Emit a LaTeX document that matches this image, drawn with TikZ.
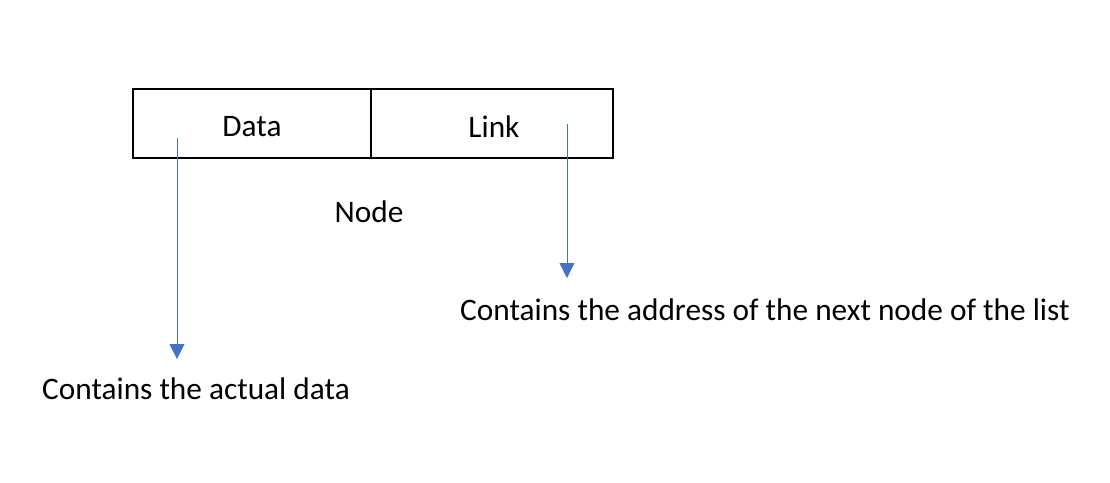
\documentclass[tikz,border=0pt]{standalone}
\usepackage{fontspec}
\setmainfont{Carlito}
\usetikzlibrary{arrows.meta}
\definecolor{officeblue}{HTML}{4472C4}
\tikzset{
  cell/.style={draw=black, line width=1.6pt, minimum height=69pt, inner sep=0pt},
  lbl/.style={font=\fontsize{31.3}{36}\selectfont, inner sep=0pt},
  ptr/.style={draw=officeblue, line width=0.9pt, -{Triangle[length=15pt,width=15pt]}}
}
\begin{document}
\begin{tikzpicture}[x=1pt,y=-1pt]
\useasboundingbox (0,0) rectangle (1110,482);
\node[cell, minimum width=238pt] (data) at (252,123.5) {};
\node[cell, minimum width=242pt] (link) at (492,123.5) {};
\node[lbl] (datat) at (252,127) {Data};
\node[lbl] (linkt) at (494,127) {Link};
\node[lbl] (nodet) at (369,212) {Node};
\coordinate (ds) at (177,138);
\coordinate (de) at (177,359);
\coordinate (ls) at (567,124);
\coordinate (le) at (567,278);
\node[lbl, anchor=west] (actual) at (42,389) {Contains the actual data};
\node[lbl, anchor=west] (addr) at (460,310) {Contains the address of the next node of the list};
\draw[ptr] (ds) -- (de);
\draw[ptr] (ls) -- (le);
\end{tikzpicture}
\end{document}
